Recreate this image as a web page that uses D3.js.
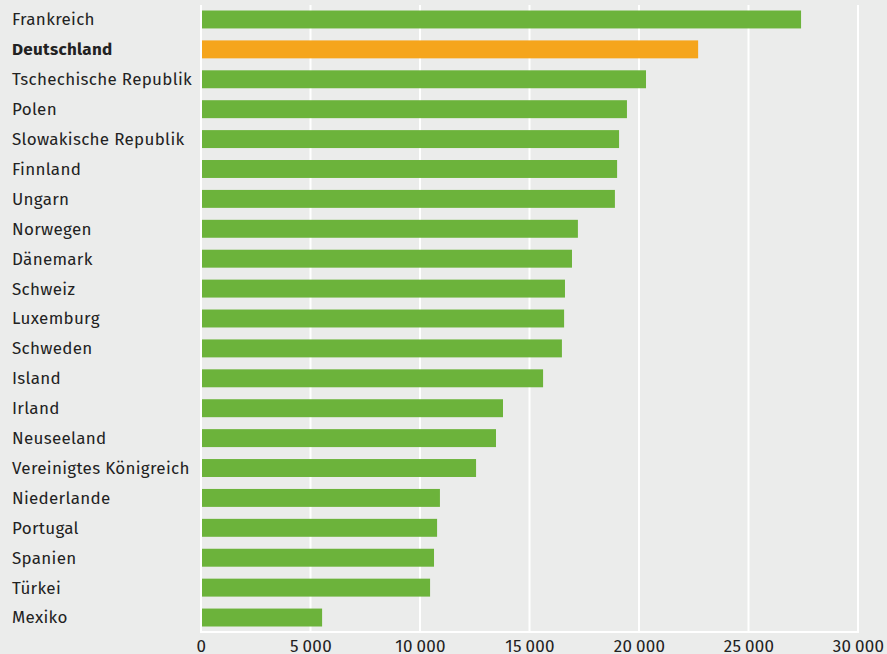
<!DOCTYPE html>
<html>
<head>
<meta charset="utf-8">
<script src="https://cdn.jsdelivr.net/npm/d3@7"></script>
<style>
  html, body { margin: 0; padding: 0; background: #ebeceb; }
  svg { display: block; }
</style>
</head>
<body>
<svg id="chart"></svg>
<script>
// Länder, von oben nach unten
const countries = [
  "Frankreich", "Deutschland", "Tschechische Republik", "Polen",
  "Slowakische Republik", "Finnland", "Ungarn", "Norwegen", "Dänemark",
  "Schweiz", "Luxemburg", "Schweden", "Island", "Irland", "Neuseeland",
  "Vereinigtes Königreich", "Niederlande", "Portugal", "Spanien",
  "Türkei", "Mexiko"
];
const values = [
  27400, 22700, 20320, 19450, 19090, 19000, 18900, 17210, 16940,
  16620, 16580, 16480, 15620, 13790, 13470, 12560, 10910, 10780,
  10640, 10460, 5530
];
const highlight = ["Deutschland"];
const ticks = [0, 5000, 10000, 15000, 20000, 25000, 30000];

const width = 887, height = 654;
const green = "#6cb33b", orange = "#f5a51c";
const font = "'Fira Sans', 'Noto Sans', 'Open Sans', sans-serif";

const data = countries.map((c, i) => ({ name: c, value: values[i] }));

const svg = d3.select("#chart").attr("width", width).attr("height", height);

let x = d3.scaleLinear().domain([0, 30000]).range([201, 858]);
let y = d3.scaleBand()
  .domain(countries)
  .range([10.5, 626.5])
  .paddingInner(0.4)
  .paddingOuter(0);

const gridTop = 5, gridBottom = 632;

// Gitterlinien
svg.append("g")
  .selectAll("line")
  .data(ticks)
  .join("line")
  .attr("x1", d => x(d)).attr("x2", d => x(d))
  .attr("y1", gridTop).attr("y2", gridBottom)
  .attr("stroke", "#fff")
  .attr("stroke-width", 2);

svg.append("line")
  .attr("x1", x(0) - 1).attr("x2", x(30000) + 1)
  .attr("y1", gridBottom).attr("y2", gridBottom)
  .attr("stroke", "#fff")
  .attr("stroke-width", 2);

// Balken
svg.append("g")
  .selectAll("rect")
  .data(data)
  .join("rect")
  .attr("x", x(0) + 1)
  .attr("y", d => y(d.name))
  .attr("width", d => x(d.value) - x(0) - 1)
  .attr("height", y.bandwidth())
  .attr("fill", d => highlight.includes(d.name) ? orange : green);

// Länderbeschriftung
svg.append("g")
  .selectAll("text")
  .data(data)
  .join("text")
  .attr("x", 12)
  .attr("y", d => y(d.name) + y.bandwidth() / 2)
  .attr("dy", "0.35em")
  .style("font-family", font)
  .style("font-size", "17px")
  .style("letter-spacing", "0.3px")
  .style("font-weight", d => highlight.includes(d.name) ? "bold" : "normal")
  .style("fill", "#222")
  .text(d => d.name);

// x-Achse
const fmt = d => d3.format(",")(d).replace(/,/g, "\u2009");
const xAxis = svg.append("g")
  .attr("transform", `translate(0,${gridBottom})`)
  .call(d3.axisBottom(x).tickValues(ticks).tickSize(0).tickFormat(fmt));
xAxis.select(".domain").remove();
xAxis.selectAll("text")
  .attr("y", 20)
  .attr("dy", null)
  .style("font-family", font)
  .style("font-size", "17px")
  .style("letter-spacing", "0.3px")
  .style("fill", "#222");
</script>
</body>
</html>
